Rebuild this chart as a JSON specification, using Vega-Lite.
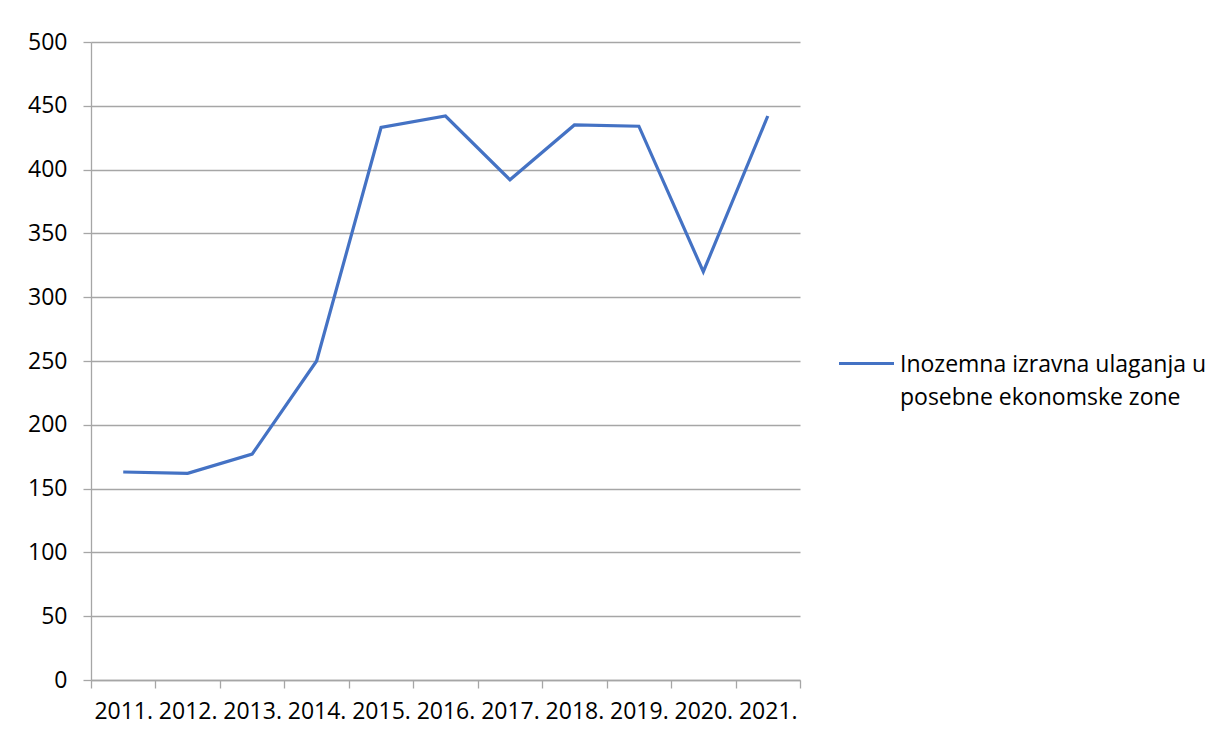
{
  "$schema": "https://vega.github.io/schema/vega-lite/v6.json",
  "width": 709,
  "height": 638,
  "autosize": {"type": "none"},
  "padding": {"left": 91, "top": 42, "right": 421, "bottom": 58},
  "background": "white",
  "config": {
    "view": {"stroke": null},
    "font": "Open Sans",
    "axis": {
      "labelFont": "Open Sans",
      "labelFontSize": 23,
      "labelColor": "#000000",
      "domainColor": "#a6a6a6",
      "tickColor": "#a6a6a6",
      "gridColor": "#a6a6a6",
      "domainWidth": 1.3,
      "tickWidth": 1.3,
      "gridWidth": 1.3,
      "tickSize": 8,
      "title": null
    }
  },
  "data": {
    "values": [
      {"year": "2011.", "value": 163, "series": "Inozemna izravna ulaganja u posebne ekonomske zone"},
      {"year": "2012.", "value": 162, "series": "Inozemna izravna ulaganja u posebne ekonomske zone"},
      {"year": "2013.", "value": 177, "series": "Inozemna izravna ulaganja u posebne ekonomske zone"},
      {"year": "2014.", "value": 250, "series": "Inozemna izravna ulaganja u posebne ekonomske zone"},
      {"year": "2015.", "value": 433, "series": "Inozemna izravna ulaganja u posebne ekonomske zone"},
      {"year": "2016.", "value": 442, "series": "Inozemna izravna ulaganja u posebne ekonomske zone"},
      {"year": "2017.", "value": 392, "series": "Inozemna izravna ulaganja u posebne ekonomske zone"},
      {"year": "2018.", "value": 435, "series": "Inozemna izravna ulaganja u posebne ekonomske zone"},
      {"year": "2019.", "value": 434, "series": "Inozemna izravna ulaganja u posebne ekonomske zone"},
      {"year": "2020.", "value": 320, "series": "Inozemna izravna ulaganja u posebne ekonomske zone"},
      {"year": "2021.", "value": 442, "series": "Inozemna izravna ulaganja u posebne ekonomske zone"}
    ]
  },
  "mark": {"type": "line", "strokeWidth": 3.2},
  "encoding": {
    "x": {
      "field": "year",
      "type": "ordinal",
      "bandPosition": 0.5,
      "scale": {"type": "band", "paddingInner": 0, "paddingOuter": 0},
      "axis": {"labelAngle": 0, "tickBand": "extent", "labelPadding": 12, "grid": false}
    },
    "y": {
      "field": "value",
      "type": "quantitative",
      "scale": {"domain": [0, 500], "nice": false},
      "axis": {"values": [0, 50, 100, 150, 200, 250, 300, 350, 400, 450, 500], "labelPadding": 16, "grid": true}
    },
    "color": {
      "field": "series",
      "type": "nominal",
      "scale": {"range": ["#4472C4"]},
      "legend": {
        "title": null,
        "orient": "none",
        "legendX": 746,
        "legendY": 292,
        "symbolType": "stroke",
        "symbolSize": 3025,
        "symbolStrokeWidth": 3.2,
        "labelFont": "Open Sans",
        "labelFontSize": 23,
        "labelColor": "#000000",
        "labelLimit": 400,
        "labelOffset": 4,
        "labelExpr": "['Inozemna izravna ulaganja u', 'posebne ekonomske zone']",
        "labelBaseline": "top",
        "encode": {
          "labels": {"update": {"lineHeight": {"value": 33}, "dy": {"value": -10}}}
        }
      }
    }
  }
}
